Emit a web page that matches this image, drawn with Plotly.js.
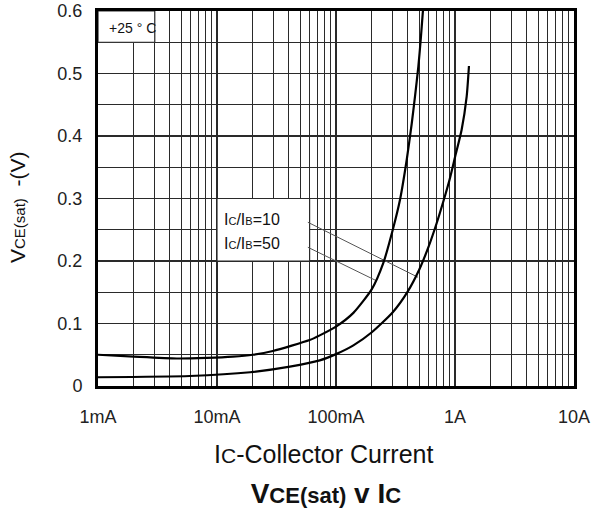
<!DOCTYPE html>
<html>
<head>
<meta charset="utf-8">
<script src="https://cdn.plot.ly/plotly-3.0.1.min.js"></script>
<style>html,body{margin:0;padding:0;background:#fff;}#chart{width:598px;height:512px;}</style>
</head>
<body>
<div id="chart"></div>
<script>
// IC/IB = 50 curve (collector current in A, VCE(sat) in V)
const ic50 = [0.001, 0.002, 0.0046, 0.0082, 0.0136, 0.02, 0.0295, 0.06, 0.073, 0.1, 0.14, 0.2, 0.25, 0.30, 0.345, 0.393, 0.433, 0.461, 0.492, 0.515, 0.536, 0.55];
const vce50 = [0.050, 0.047, 0.044, 0.045, 0.047, 0.050, 0.056, 0.0735, 0.081, 0.095, 0.117, 0.155, 0.197, 0.250, 0.298, 0.362, 0.420, 0.463, 0.511, 0.554, 0.597, 0.62];
// IC/IB = 10 curve
const ic10 = [0.001, 0.0059, 0.019, 0.041, 0.073, 0.1, 0.14, 0.2, 0.3, 0.4, 0.5, 0.6, 0.7, 0.8, 0.9, 1.0, 1.137, 1.253, 1.31];
const vce10 = [0.014, 0.016, 0.022, 0.031, 0.041, 0.051, 0.065, 0.086, 0.118, 0.151, 0.186, 0.223, 0.260, 0.296, 0.330, 0.366, 0.410, 0.463, 0.512];

// axis ticks
const decadeVals = [0.001, 0.01, 0.1, 1, 10];
const decadeLabels = ['1mA', '10mA', '100mA', '1A', '10A'];
const yLabelVals = [0, 0.1, 0.2, 0.3, 0.4, 0.5, 0.6];

// leader lines from labels to curves
const lead10X = [0.058, 0.489];
const lead10Y = [0.262, 0.174];
const lead50X = [0.058, 0.221];
const lead50Y = [0.222, 0.168];

// white label boxes
const legBoxX = [0.01, 0.06, 0.06, 0.01, 0.01];
const legBoxY = [0.2, 0.2, 0.3, 0.3, 0.2];
const tempBoxX = [0.001, 0.003, 0.003, 0.001, 0.001];
const tempBoxY = [0.55, 0.55, 0.6, 0.6, 0.55];

// build all gridline tick positions
const xTickVals = [], xTickText = [];
for (let e = -3; e <= 1; e++) {
  for (let k = 1; k <= 9; k++) {
    const v = k * Math.pow(10, e);
    xTickVals.push(v);
    const idx = decadeVals.findIndex(d => Math.abs(d - v) < 1e-9);
    xTickText.push(idx >= 0 ? decadeLabels[idx] : '');
    if (e === 1) break;
  }
}
const yTickVals = [], yTickText = [];
for (let i = 0; i <= 12; i++) {
  const v = Math.round(i * 5) / 100;
  yTickVals.push(v);
  const isLab = yLabelVals.some(d => Math.abs(d - v) < 1e-9);
  yTickText.push(isLab ? (v === 0 ? '0' : v.toFixed(1)) : '');
}

const gridCol = '#2a2a2a';
const traces = [
  {x: tempBoxX, y: tempBoxY, mode: 'lines', fill: 'toself', fillcolor: '#fff',
   line: {color: gridCol, width: 1.2}, hoverinfo: 'skip', showlegend: false},
  {x: legBoxX, y: legBoxY, mode: 'lines', fill: 'toself', fillcolor: '#fff',
   line: {color: gridCol, width: 1.2}, hoverinfo: 'skip', showlegend: false},
  {x: lead10X, y: lead10Y, mode: 'lines', line: {color: '#555', width: 1}, showlegend: false},
  {x: lead50X, y: lead50Y, mode: 'lines', line: {color: '#555', width: 1}, showlegend: false},
  {x: ic50, y: vce50, mode: 'lines', name: 'IC/IB=50', line: {color: '#000', width: 2.2, shape: 'spline', smoothing: 0.6}, showlegend: false},
  {x: ic10, y: vce10, mode: 'lines', name: 'IC/IB=10', line: {color: '#000', width: 2.2, shape: 'spline', smoothing: 0.6}, showlegend: false}
];

const font = 'Liberation Sans, Arial, sans-serif';
const layout = {
  width: 598, height: 512,
  margin: {l: 98, r: 24, t: 11, b: 126},
  paper_bgcolor: '#fff', plot_bgcolor: '#fff',
  showlegend: false,
  title: {
    text: '<b>V<span style="font-size:22px">CE(sat)</span> v I<span style="font-size:22px">C</span></b>',
    font: {family: font, size: 28, color: '#111'},
    x: 0.545, xanchor: 'center', xref: 'container',
    y: 0.037, yanchor: 'middle', yref: 'container'
  },
  xaxis: {
    type: 'log', range: [-3, 1],
    tickmode: 'array', tickvals: xTickVals, ticktext: xTickText,
    ticks: '', showgrid: true, gridcolor: gridCol, gridwidth: 1.2,
    showline: true, linecolor: '#000', linewidth: 3, mirror: true,
    zeroline: false, ticklabelstandoff: 12,
    tickfont: {family: font, size: 18, color: '#222'}
  },
  yaxis: {
    range: [0, 0.6],
    tickmode: 'array', tickvals: yTickVals, ticktext: yTickText,
    ticks: '', showgrid: true, gridcolor: gridCol, gridwidth: 1.2,
    showline: true, linecolor: '#000', linewidth: 3, mirror: true,
    zeroline: false, ticklabelstandoff: 9,
    tickfont: {family: font, size: 18, color: '#222'}
  },
  annotations: [
    {text: '+25 ° C', xref: 'paper', yref: 'paper', x: (107 - 98) / 476, y: (386 - 28) / 375,
     xanchor: 'left', yanchor: 'middle', showarrow: false, font: {family: font, size: 14, color: '#111'}},
    {text: 'I<span style="font-size:11px">C</span>/I<span style="font-size:11px">B</span>=10',
     xref: 'paper', yref: 'paper', x: (222 - 98) / 476, y: (386 - 219) / 375,
     xanchor: 'left', yanchor: 'middle', showarrow: false, font: {family: font, size: 16, color: '#111'}},
    {text: 'I<span style="font-size:11px">C</span>/I<span style="font-size:11px">B</span>=50',
     xref: 'paper', yref: 'paper', x: (222 - 98) / 476, y: (386 - 244) / 375,
     xanchor: 'left', yanchor: 'middle', showarrow: false, font: {family: font, size: 16, color: '#111'}},
    {text: 'I<span style="font-size:21px">C</span>-Collector Current',
     xref: 'paper', yref: 'paper', x: (323 - 98) / 476, y: (386 - 454) / 375,
     xanchor: 'center', yanchor: 'middle', showarrow: false, font: {family: font, size: 25, color: '#111'}},
    {text: 'V<span style="font-size:15px">CE(sat)</span>  -(V)',
     xref: 'paper', yref: 'paper', x: (18 - 98) / 476, y: (386 - 207) / 375,
     xanchor: 'center', yanchor: 'middle', textangle: -90, showarrow: false,
     font: {family: font, size: 21, color: '#111'}}
  ]
};

Plotly.newPlot('chart', traces, layout, {staticPlot: true, displayModeBar: false});
</script>
</body>
</html>
